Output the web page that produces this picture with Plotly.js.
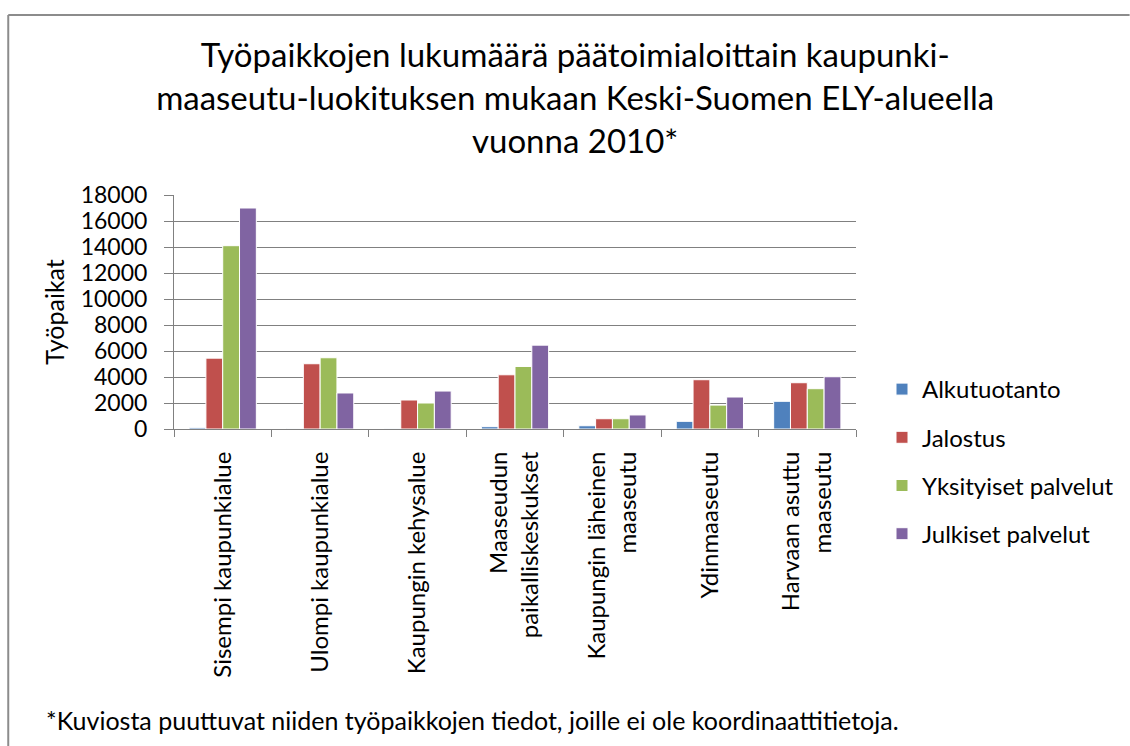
<!DOCTYPE html>
<html>
<head>
<meta charset="utf-8">
<script src="https://cdn.plot.ly/plotly-3.0.1.min.js"></script>
<style>
html,body{margin:0;padding:0;background:#fff;}
#chart{width:1130px;height:746px;}
</style>
</head>
<body>
<div id="chart"></div>
<script>
const categories = [
  "Sisempi kaupunkialue",
  "Ulompi kaupunkialue",
  "Kaupungin kehysalue",
  "Maaseudun<br>paikalliskeskukset",
  "Kaupungin läheinen<br>maaseutu",
  "Ydinmaaseutu",
  "Harvaan asuttu<br>maaseutu"
];
const seriesNames = ["Alkutuotanto", "Jalostus", "Yksityiset palvelut", "Julkiset palvelut"];
const alkutuotanto = [100, 30, 20, 180, 250, 590, 2130];
const jalostus = [5450, 5020, 2230, 4170, 790, 3790, 3560];
const yksityiset = [14100, 5480, 2000, 4810, 790, 1840, 3100];
const julkiset = [17000, 2770, 2920, 6450, 1080, 2460, 4020];
const yTicks = [0, 2000, 4000, 6000, 8000, 10000, 12000, 14000, 16000, 18000];
const colors = ["#4f81bd", "#c0504d", "#9bbb59", "#8064a2"];
const titleText = "Työpaikkojen lukumäärä päätoimialoittain kaupunki-<br>maaseutu-luokituksen mukaan Keski-Suomen ELY-alueella<br>vuonna 2010*";
const footnote = "*Kuviosta puuttuvat niiden työpaikkojen tiedot, joille ei ole koordinaattitietoja.";

const values = [alkutuotanto, jalostus, yksityiset, julkiset];
const FONT = "Lato, 'Open Sans', sans-serif";

const traces = values.map((v, i) => ({
  type: "bar",
  name: seriesNames[i],
  x: categories,
  y: v,
  legendgroup: "g" + i,
  marker: {color: colors[i], line: {color: "#ffffff", width: 1}},
  hoverinfo: "x+y+name"
}));

// plot area geometry
const W = 1130, H = 746;
const L = 174, R = 273, T = 195, B = 317;
const pw = W - L - R, ph = H - T - B;
const px = xp => (xp - L) / pw;
const py = yp => (H - B - yp) / ph;

const layout = {
  width: W, height: H,
  margin: {l: L, r: R, t: T, b: B, pad: 0},
  paper_bgcolor: "#ffffff",
  plot_bgcolor: "#ffffff",
  font: {family: FONT, color: "#000000", size: 24},
  title: {
    text: titleText,
    font: {family: FONT, size: 33, color: "#000000"},
    x: 0.509, xanchor: "center",
    y: 1 - 67 / H, yanchor: "middle", yref: "container"
  },
  barmode: "group",
  bargap: 0.31,
  bargroupgap: 0,
  showlegend: true,
  legend: {
    x: px(882), xanchor: "left",
    y: py(367), yanchor: "top",
    font: {family: FONT, size: 24, color: "#000000"},
    traceorder: "grouped",
    tracegroupgap: 14,
    itemwidth: 30,
    bgcolor: "rgba(0,0,0,0)"
  },
  xaxis: {
    type: "category",
    showline: true, linecolor: "#808080", linewidth: 1,
    ticks: "outside", tickson: "boundaries", ticklen: 7, tickcolor: "#808080",
    tickangle: -90,
    ticklabelstandoff: 12,
    tickfont: {family: FONT, size: 24, color: "#000000"},
    showgrid: false, zeroline: false,
    fixedrange: true
  },
  yaxis: {
    range: [0, 18000],
    tickvals: yTicks,
    ticktext: yTicks.map(String),
    showline: true, linecolor: "#808080", linewidth: 1,
    ticks: "outside", ticklen: 9, tickcolor: "#808080",
    ticklabelstandoff: 12,
    showgrid: true, gridcolor: "#808080", gridwidth: 1,
    zeroline: false,
    tickfont: {family: FONT, size: 23, color: "#000000"},
    title: {text: "Työpaikat", font: {family: FONT, size: 25, color: "#000000"}, standoff: 8},
    fixedrange: true
  },
  annotations: [{
    text: footnote,
    xref: "paper", yref: "paper",
    x: px(44), xanchor: "left",
    y: py(720), yanchor: "middle",
    showarrow: false,
    font: {family: FONT, size: 25, color: "#000000"}
  }],
  shapes: [
    {type: "line", xref: "paper", yref: "paper", x0: px(8), x1: px(1131), y0: py(15), y1: py(15),
     line: {color: "#8c8c8c", width: 2}},
    {type: "line", xref: "paper", yref: "paper", x0: px(8), x1: px(8), y0: py(15), y1: py(747),
     line: {color: "#8c8c8c", width: 2}}
  ]
};

Plotly.newPlot("chart", traces, layout, {displayModeBar: false});
</script>
</body>
</html>
